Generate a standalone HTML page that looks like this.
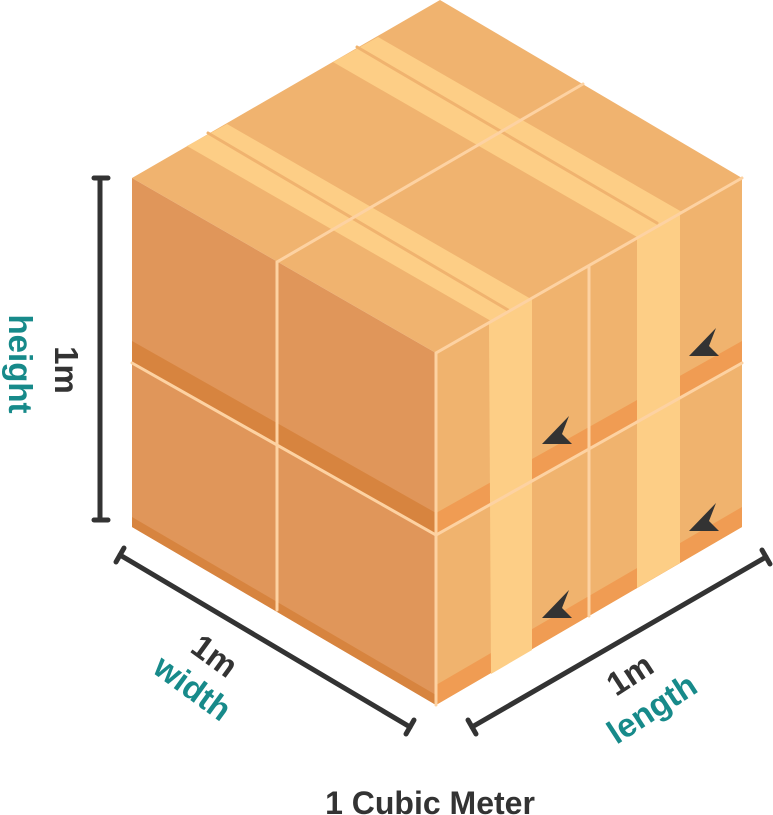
<!DOCTYPE html>
<html><head><meta charset="utf-8"><style>
html,body{margin:0;padding:0;background:#fff;width:773px;height:815px;overflow:hidden}
svg{display:block}
text{font-family:"Liberation Sans",sans-serif;font-weight:bold}
</style></head><body>
<svg width="773" height="815" viewBox="0 0 773 815" xmlns="http://www.w3.org/2000/svg">
<polygon points="440,0 742,178 436,353 132,178" fill="#F0B36F"/>
<polygon points="132,178 436,353 436,705 132,527" fill="#E0965A"/>
<polygon points="436,353 742,178 742,527 436,705" fill="#F0B36E"/>
<polygon points="132,341 436,513 436,535 132,363" fill="#D7843F"/>
<polygon points="132,517 436,695 436,705 132,527" fill="#D7843F"/>
<polygon points="436,513 742,341 742,363 436,535" fill="#F09C53"/>
<polygon points="436,685 742,507 742,527 436,705" fill="#F09C53"/>
<polygon points="187,146 227,124 531,299 491,321" fill="#FDCE86"/>
<polygon points="333,62 378,37 682,212 637,237" fill="#FDCE86"/>
<line x1="208" y1="133" x2="508" y2="310" stroke="#F0B36F" stroke-width="3" stroke-linecap="round"/>
<line x1="357" y1="47" x2="657" y2="223" stroke="#F0B36F" stroke-width="3" stroke-linecap="round"/>
<polygon points="489,322 532,298 532,650 491,674" fill="#FDCE86"/>
<polygon points="637,238 680,213 680,563 637,588" fill="#FDCE86"/>
<g stroke="#FDD2A2" stroke-width="3" fill="none" stroke-linecap="round">
<polyline points="583,84 277,262 277,610"/>
<line x1="589" y1="266" x2="589" y2="616"/>
<polyline points="742,178 436,353 436,705"/>
<polyline points="132,363 436,535 742,363"/>
</g>
<g fill="#333">
<path d="M716,328 L689,356 L719,356 L709,346 Z"/>
<path d="M569,416 L542,444 L572,444 L562,434 Z"/>
<path d="M716,503 L689,531 L719,531 L709,521 Z"/>
<path d="M569,590 L542,618 L572,618 L562,608 Z"/>
</g>
<g stroke="#333" stroke-width="5" stroke-linecap="round" fill="none">
<line x1="100" y1="178" x2="100" y2="520"/>
<line x1="94" y1="178" x2="108" y2="178"/>
<line x1="94" y1="520" x2="108" y2="520"/>
<line x1="120" y1="555" x2="410" y2="727"/>
<line x1="116" y1="562" x2="124" y2="548"/>
<line x1="406" y1="734" x2="414" y2="720"/>
<line x1="472" y1="727" x2="766" y2="557"/>
<line x1="468" y1="720" x2="476" y2="734"/>
<line x1="762" y1="550" x2="770" y2="564"/>
</g>
<text transform="translate(55,370) rotate(90)" font-size="33" fill="#333" text-anchor="middle">1m</text>
<text transform="translate(9,364) rotate(90)" font-size="33" fill="#178A8A" text-anchor="middle">height</text>
<text transform="translate(208,665) rotate(36)" font-size="33" fill="#333" text-anchor="middle">1m</text>
<text transform="translate(186,697) rotate(36)" font-size="33" fill="#178A8A" text-anchor="middle">width</text>
<text transform="translate(636,684) rotate(-33)" font-size="33" fill="#333" text-anchor="middle">1m</text>
<text transform="translate(658,718) rotate(-33)" font-size="33" fill="#178A8A" text-anchor="middle">length</text>
<text x="430" y="814" font-size="32" fill="#333" text-anchor="middle">1 Cubic Meter</text>
</svg>
</body></html>
